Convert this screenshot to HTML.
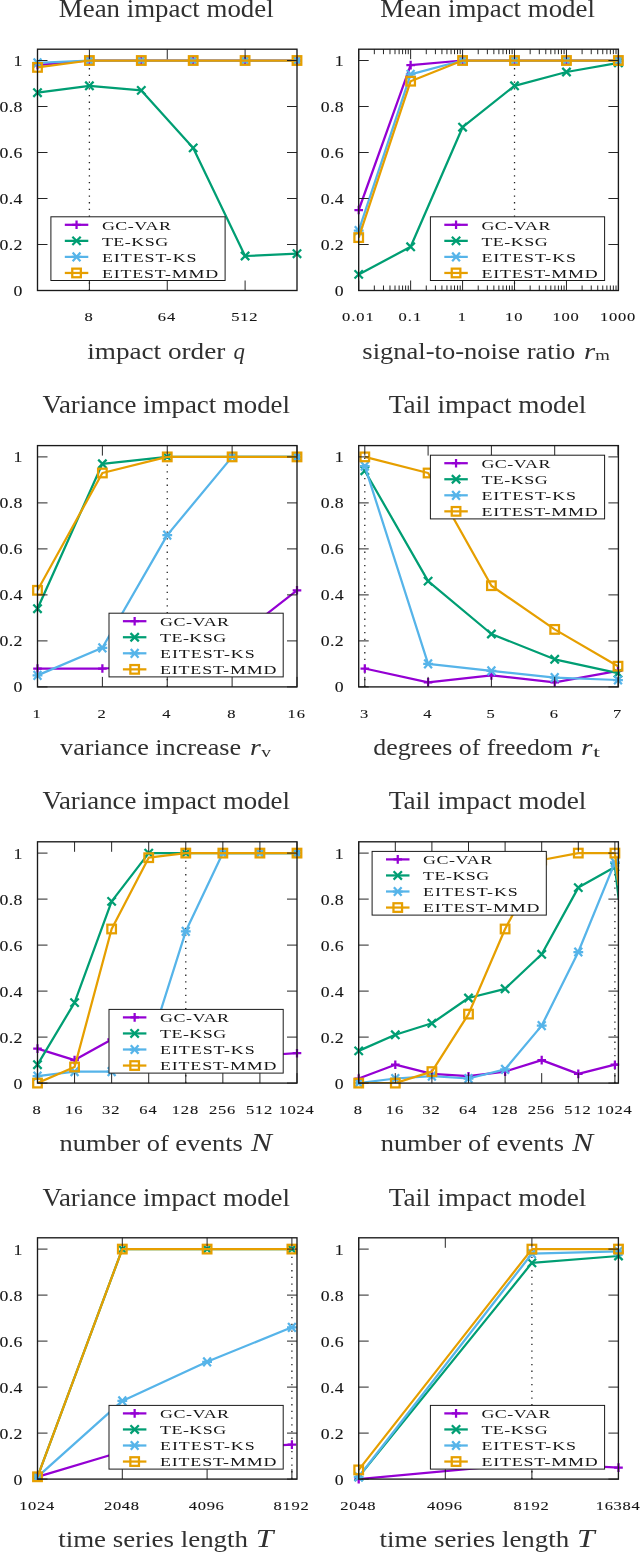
<!DOCTYPE html>
<html><head><meta charset="utf-8"><style>
html,body{margin:0;padding:0;background:#fff;}
body{width:640px;height:1552px;overflow:hidden;}
svg{display:block;will-change:transform;font-family:"Liberation Serif",serif;fill:#111;}
text{fill:#303030;}
.sm{fill:#151515;stroke:#151515;stroke-width:0.1px;}
.lg{fill:#151515;}
</style></head><body>
<svg width="640" height="1552" viewBox="0 0 640 1552">
<rect width="640" height="1552" fill="#fff"/>
<clipPath id="c0"><rect x="37.5" y="49.2" width="259.5" height="241.3"/></clipPath>
<path d="M89.40 290.50V60.50" stroke="#222" stroke-width="1.3" stroke-dasharray="1.3 5.4" fill="none"/>
<path d="M37.50 65.10L89.40 60.50L141.30 60.50L193.20 60.50L245.10 60.50L297.00 60.50" stroke="#9400d3" stroke-width="2.25" fill="none" stroke-linejoin="round" clip-path="url(#c0)"/>
<path d="M33.20 65.10H41.80M37.50 60.80V69.40" stroke="#9400d3" stroke-width="2.25" fill="none"/><path d="M85.10 60.50H93.70M89.40 56.20V64.80" stroke="#9400d3" stroke-width="2.25" fill="none"/><path d="M137.00 60.50H145.60M141.30 56.20V64.80" stroke="#9400d3" stroke-width="2.25" fill="none"/><path d="M188.90 60.50H197.50M193.20 56.20V64.80" stroke="#9400d3" stroke-width="2.25" fill="none"/><path d="M240.80 60.50H249.40M245.10 56.20V64.80" stroke="#9400d3" stroke-width="2.25" fill="none"/><path d="M292.70 60.50H301.30M297.00 56.20V64.80" stroke="#9400d3" stroke-width="2.25" fill="none"/>
<path d="M37.50 92.70L89.40 85.80L141.30 90.40L193.20 147.90L245.10 256.00L297.00 253.70" stroke="#009e73" stroke-width="2.25" fill="none" stroke-linejoin="round" clip-path="url(#c0)"/>
<path d="M33.33 88.53L41.67 96.87M33.33 96.87L41.67 88.53" stroke="#009e73" stroke-width="2.25" fill="none"/><path d="M85.23 81.63L93.57 89.97M85.23 89.97L93.57 81.63" stroke="#009e73" stroke-width="2.25" fill="none"/><path d="M137.13 86.23L145.47 94.57M137.13 94.57L145.47 86.23" stroke="#009e73" stroke-width="2.25" fill="none"/><path d="M189.03 143.73L197.37 152.07M189.03 152.07L197.37 143.73" stroke="#009e73" stroke-width="2.25" fill="none"/><path d="M240.93 251.83L249.27 260.17M240.93 260.17L249.27 251.83" stroke="#009e73" stroke-width="2.25" fill="none"/><path d="M292.83 249.53L301.17 257.87M292.83 257.87L301.17 249.53" stroke="#009e73" stroke-width="2.25" fill="none"/>
<path d="M37.50 62.80L89.40 60.50L141.30 60.50L193.20 60.50L245.10 60.50L297.00 60.50" stroke="#56b4e9" stroke-width="2.25" fill="none" stroke-linejoin="round" clip-path="url(#c0)"/>
<path d="M32.60 62.80H42.40M33.63 58.44L41.37 67.16M33.63 67.16L41.37 58.44" stroke="#56b4e9" stroke-width="2.25" fill="none"/><path d="M84.50 60.50H94.30M85.53 56.14L93.27 64.86M85.53 64.86L93.27 56.14" stroke="#56b4e9" stroke-width="2.25" fill="none"/><path d="M136.40 60.50H146.20M137.43 56.14L145.17 64.86M137.43 64.86L145.17 56.14" stroke="#56b4e9" stroke-width="2.25" fill="none"/><path d="M188.30 60.50H198.10M189.33 56.14L197.07 64.86M189.33 64.86L197.07 56.14" stroke="#56b4e9" stroke-width="2.25" fill="none"/><path d="M240.20 60.50H250.00M241.23 56.14L248.97 64.86M241.23 64.86L248.97 56.14" stroke="#56b4e9" stroke-width="2.25" fill="none"/><path d="M292.10 60.50H301.90M293.13 56.14L300.87 64.86M293.13 64.86L300.87 56.14" stroke="#56b4e9" stroke-width="2.25" fill="none"/>
<path d="M37.50 67.40L89.40 60.50L141.30 60.50L193.20 60.50L245.10 60.50L297.00 60.50" stroke="#e69f00" stroke-width="2.25" fill="none" stroke-linejoin="round" clip-path="url(#c0)"/>
<rect x="33.20" y="63.10" width="8.60" height="8.60" stroke="#e69f00" stroke-width="2.25" fill="none"/><rect x="85.10" y="56.20" width="8.60" height="8.60" stroke="#e69f00" stroke-width="2.25" fill="none"/><rect x="137.00" y="56.20" width="8.60" height="8.60" stroke="#e69f00" stroke-width="2.25" fill="none"/><rect x="188.90" y="56.20" width="8.60" height="8.60" stroke="#e69f00" stroke-width="2.25" fill="none"/><rect x="240.80" y="56.20" width="8.60" height="8.60" stroke="#e69f00" stroke-width="2.25" fill="none"/><rect x="292.70" y="56.20" width="8.60" height="8.60" stroke="#e69f00" stroke-width="2.25" fill="none"/>
<rect x="37.5" y="49.20" width="259.50" height="241.30" fill="none" stroke="#1a1a1a" stroke-width="1.35"/>
<path d="M37.5 290.50h10M297.0 290.50h-10M37.5 244.50h10M297.0 244.50h-10M37.5 198.50h10M297.0 198.50h-10M37.5 152.50h10M297.0 152.50h-10M37.5 106.50h10M297.0 106.50h-10M37.5 60.50h10M297.0 60.50h-10M89.40 290.50v-10M89.40 49.20v10M167.25 290.50v-10M167.25 49.20v10M245.10 290.50v-10M245.10 49.20v10" stroke="#1a1a1a" stroke-width="0.95" fill="none"/>
<rect x="50.90" y="216.80" width="174.2" height="63.7" fill="#fff" stroke="#1a1a1a" stroke-width="1"/>
<path d="M64.80 224.80H88.30" stroke="#9400d3" stroke-width="2.25"/>
<path d="M72.25 224.80H80.85M76.55 220.50V229.10" stroke="#9400d3" stroke-width="2.25" fill="none"/>
<text class="lg" transform="translate(101.90,229.55) scale(1.38,1)" font-size="13.0" textLength="50.07" lengthAdjust="spacing">GC-VAR</text>
<path d="M64.80 240.85H88.30" stroke="#009e73" stroke-width="2.25"/>
<path d="M72.38 236.68L80.72 245.02M72.38 245.02L80.72 236.68" stroke="#009e73" stroke-width="2.25" fill="none"/>
<text class="lg" transform="translate(101.90,245.60) scale(1.38,1)" font-size="13.0" textLength="47.97" lengthAdjust="spacing">TE-KSG</text>
<path d="M64.80 256.90H88.30" stroke="#56b4e9" stroke-width="2.25"/>
<path d="M71.65 256.90H81.45M72.68 252.54L80.42 261.26M72.68 261.26L80.42 252.54" stroke="#56b4e9" stroke-width="2.25" fill="none"/>
<text class="lg" transform="translate(101.90,261.65) scale(1.38,1)" font-size="13.0" textLength="68.62" lengthAdjust="spacing">EITEST-KS</text>
<path d="M64.80 272.95H88.30" stroke="#e69f00" stroke-width="2.25"/>
<rect x="72.25" y="268.65" width="8.60" height="8.60" stroke="#e69f00" stroke-width="2.25" fill="none"/>
<text class="lg" transform="translate(101.90,277.70) scale(1.38,1)" font-size="13.0" textLength="84.35" lengthAdjust="spacing">EITEST-MMD</text>
<text class="sm" transform="translate(22.30,295.90) scale(1.25,1)" font-size="14.2" text-anchor="end" textLength="7.02" lengthAdjust="spacing">0</text>
<text class="sm" transform="translate(22.30,249.90) scale(1.25,1)" font-size="14.2" text-anchor="end" textLength="18.26" lengthAdjust="spacing">0.2</text>
<text class="sm" transform="translate(22.30,203.90) scale(1.25,1)" font-size="14.2" text-anchor="end" textLength="18.26" lengthAdjust="spacing">0.4</text>
<text class="sm" transform="translate(22.30,157.90) scale(1.25,1)" font-size="14.2" text-anchor="end" textLength="18.26" lengthAdjust="spacing">0.6</text>
<text class="sm" transform="translate(22.30,111.90) scale(1.25,1)" font-size="14.2" text-anchor="end" textLength="18.26" lengthAdjust="spacing">0.8</text>
<text class="sm" transform="translate(22.30,65.90) scale(1.25,1)" font-size="14.2" text-anchor="end" textLength="7.02" lengthAdjust="spacing">1</text>
<text class="sm" transform="translate(88.60,321.10) scale(1.25,1)" font-size="13.2" text-anchor="middle" textLength="7.02" lengthAdjust="spacing">8</text>
<text class="sm" transform="translate(166.45,321.10) scale(1.25,1)" font-size="13.2" text-anchor="middle" textLength="14.04" lengthAdjust="spacing">64</text>
<text class="sm" transform="translate(244.30,321.10) scale(1.25,1)" font-size="13.2" text-anchor="middle" textLength="21.07" lengthAdjust="spacing">512</text>
<text x="166.25" y="16.70" font-size="25.5" text-anchor="middle" textLength="214.80" lengthAdjust="spacingAndGlyphs">Mean impact model</text>
<text x="87.20" y="358.70" font-size="24.0" text-anchor="start" textLength="138.10" lengthAdjust="spacingAndGlyphs">impact order</text>
<text x="233.60" y="358.90" font-size="23.0" text-anchor="start" textLength="11.40" lengthAdjust="spacingAndGlyphs" font-style="italic">q</text>
<clipPath id="c1"><rect x="358.7" y="49.2" width="259.7" height="241.3"/></clipPath>
<path d="M514.52 290.50V60.50" stroke="#222" stroke-width="1.3" stroke-dasharray="1.3 5.4" fill="none"/>
<path d="M358.70 210.00L410.64 65.10L462.58 60.50L514.52 60.50L566.46 60.50L618.40 60.50" stroke="#9400d3" stroke-width="2.25" fill="none" stroke-linejoin="round" clip-path="url(#c1)"/>
<path d="M354.40 210.00H363.00M358.70 205.70V214.30" stroke="#9400d3" stroke-width="2.25" fill="none"/><path d="M406.34 65.10H414.94M410.64 60.80V69.40" stroke="#9400d3" stroke-width="2.25" fill="none"/><path d="M458.28 60.50H466.88M462.58 56.20V64.80" stroke="#9400d3" stroke-width="2.25" fill="none"/><path d="M510.22 60.50H518.82M514.52 56.20V64.80" stroke="#9400d3" stroke-width="2.25" fill="none"/><path d="M562.16 60.50H570.76M566.46 56.20V64.80" stroke="#9400d3" stroke-width="2.25" fill="none"/><path d="M614.10 60.50H622.70M618.40 56.20V64.80" stroke="#9400d3" stroke-width="2.25" fill="none"/>
<path d="M358.70 274.40L410.64 246.80L462.58 127.20L514.52 85.80L566.46 72.00L618.40 62.80" stroke="#009e73" stroke-width="2.25" fill="none" stroke-linejoin="round" clip-path="url(#c1)"/>
<path d="M354.53 270.23L362.87 278.57M354.53 278.57L362.87 270.23" stroke="#009e73" stroke-width="2.25" fill="none"/><path d="M406.47 242.63L414.81 250.97M406.47 250.97L414.81 242.63" stroke="#009e73" stroke-width="2.25" fill="none"/><path d="M458.41 123.03L466.75 131.37M458.41 131.37L466.75 123.03" stroke="#009e73" stroke-width="2.25" fill="none"/><path d="M510.35 81.63L518.69 89.97M510.35 89.97L518.69 81.63" stroke="#009e73" stroke-width="2.25" fill="none"/><path d="M562.29 67.83L570.63 76.17M562.29 76.17L570.63 67.83" stroke="#009e73" stroke-width="2.25" fill="none"/><path d="M614.23 58.63L622.57 66.97M614.23 66.97L622.57 58.63" stroke="#009e73" stroke-width="2.25" fill="none"/>
<path d="M358.70 230.70L410.64 74.30L462.58 60.50L514.52 60.50L566.46 60.50L618.40 60.50" stroke="#56b4e9" stroke-width="2.25" fill="none" stroke-linejoin="round" clip-path="url(#c1)"/>
<path d="M353.80 230.70H363.60M354.83 226.34L362.57 235.06M354.83 235.06L362.57 226.34" stroke="#56b4e9" stroke-width="2.25" fill="none"/><path d="M405.74 74.30H415.54M406.77 69.94L414.51 78.66M406.77 78.66L414.51 69.94" stroke="#56b4e9" stroke-width="2.25" fill="none"/><path d="M457.68 60.50H467.48M458.71 56.14L466.45 64.86M458.71 64.86L466.45 56.14" stroke="#56b4e9" stroke-width="2.25" fill="none"/><path d="M509.62 60.50H519.42M510.65 56.14L518.39 64.86M510.65 64.86L518.39 56.14" stroke="#56b4e9" stroke-width="2.25" fill="none"/><path d="M561.56 60.50H571.36M562.59 56.14L570.33 64.86M562.59 64.86L570.33 56.14" stroke="#56b4e9" stroke-width="2.25" fill="none"/><path d="M613.50 60.50H623.30M614.53 56.14L622.27 64.86M614.53 64.86L622.27 56.14" stroke="#56b4e9" stroke-width="2.25" fill="none"/>
<path d="M358.70 237.60L410.64 81.20L462.58 60.50L514.52 60.50L566.46 60.50L618.40 60.50" stroke="#e69f00" stroke-width="2.25" fill="none" stroke-linejoin="round" clip-path="url(#c1)"/>
<rect x="354.40" y="233.30" width="8.60" height="8.60" stroke="#e69f00" stroke-width="2.25" fill="none"/><rect x="406.34" y="76.90" width="8.60" height="8.60" stroke="#e69f00" stroke-width="2.25" fill="none"/><rect x="458.28" y="56.20" width="8.60" height="8.60" stroke="#e69f00" stroke-width="2.25" fill="none"/><rect x="510.22" y="56.20" width="8.60" height="8.60" stroke="#e69f00" stroke-width="2.25" fill="none"/><rect x="562.16" y="56.20" width="8.60" height="8.60" stroke="#e69f00" stroke-width="2.25" fill="none"/><rect x="614.10" y="56.20" width="8.60" height="8.60" stroke="#e69f00" stroke-width="2.25" fill="none"/>
<rect x="358.7" y="49.20" width="259.70" height="241.30" fill="none" stroke="#1a1a1a" stroke-width="1.35"/>
<path d="M358.7 290.50h10M618.4 290.50h-10M358.7 244.50h10M618.4 244.50h-10M358.7 198.50h10M618.4 198.50h-10M358.7 152.50h10M618.4 152.50h-10M358.7 106.50h10M618.4 106.50h-10M358.7 60.50h10M618.4 60.50h-10M358.70 290.50v-10M358.70 49.20v10M410.64 290.50v-10M410.64 49.20v10M462.58 290.50v-10M462.58 49.20v10M514.52 290.50v-10M514.52 49.20v10M566.46 290.50v-10M566.46 49.20v10M618.40 290.50v-10M618.40 49.20v10M374.34 290.50v-5M374.34 49.20v5M383.48 290.50v-5M383.48 49.20v5M389.97 290.50v-5M389.97 49.20v5M395.00 290.50v-5M395.00 49.20v5M399.12 290.50v-5M399.12 49.20v5M402.59 290.50v-5M402.59 49.20v5M405.61 290.50v-5M405.61 49.20v5M408.26 290.50v-5M408.26 49.20v5M426.28 290.50v-5M426.28 49.20v5M435.42 290.50v-5M435.42 49.20v5M441.91 290.50v-5M441.91 49.20v5M446.94 290.50v-5M446.94 49.20v5M451.06 290.50v-5M451.06 49.20v5M454.53 290.50v-5M454.53 49.20v5M457.55 290.50v-5M457.55 49.20v5M460.20 290.50v-5M460.20 49.20v5M478.22 290.50v-5M478.22 49.20v5M487.36 290.50v-5M487.36 49.20v5M493.85 290.50v-5M493.85 49.20v5M498.88 290.50v-5M498.88 49.20v5M503.00 290.50v-5M503.00 49.20v5M506.47 290.50v-5M506.47 49.20v5M509.49 290.50v-5M509.49 49.20v5M512.14 290.50v-5M512.14 49.20v5M530.16 290.50v-5M530.16 49.20v5M539.30 290.50v-5M539.30 49.20v5M545.79 290.50v-5M545.79 49.20v5M550.82 290.50v-5M550.82 49.20v5M554.94 290.50v-5M554.94 49.20v5M558.41 290.50v-5M558.41 49.20v5M561.43 290.50v-5M561.43 49.20v5M564.08 290.50v-5M564.08 49.20v5M582.10 290.50v-5M582.10 49.20v5M591.24 290.50v-5M591.24 49.20v5M597.73 290.50v-5M597.73 49.20v5M602.76 290.50v-5M602.76 49.20v5M606.88 290.50v-5M606.88 49.20v5M610.35 290.50v-5M610.35 49.20v5M613.37 290.50v-5M613.37 49.20v5M616.02 290.50v-5M616.02 49.20v5" stroke="#1a1a1a" stroke-width="0.95" fill="none"/>
<rect x="430.40" y="216.80" width="174.2" height="63.7" fill="#fff" stroke="#1a1a1a" stroke-width="1"/>
<path d="M444.30 224.80H467.80" stroke="#9400d3" stroke-width="2.25"/>
<path d="M451.75 224.80H460.35M456.05 220.50V229.10" stroke="#9400d3" stroke-width="2.25" fill="none"/>
<text class="lg" transform="translate(481.40,229.55) scale(1.38,1)" font-size="13.0" textLength="50.07" lengthAdjust="spacing">GC-VAR</text>
<path d="M444.30 240.85H467.80" stroke="#009e73" stroke-width="2.25"/>
<path d="M451.88 236.68L460.22 245.02M451.88 245.02L460.22 236.68" stroke="#009e73" stroke-width="2.25" fill="none"/>
<text class="lg" transform="translate(481.40,245.60) scale(1.38,1)" font-size="13.0" textLength="47.97" lengthAdjust="spacing">TE-KSG</text>
<path d="M444.30 256.90H467.80" stroke="#56b4e9" stroke-width="2.25"/>
<path d="M451.15 256.90H460.95M452.18 252.54L459.92 261.26M452.18 261.26L459.92 252.54" stroke="#56b4e9" stroke-width="2.25" fill="none"/>
<text class="lg" transform="translate(481.40,261.65) scale(1.38,1)" font-size="13.0" textLength="68.62" lengthAdjust="spacing">EITEST-KS</text>
<path d="M444.30 272.95H467.80" stroke="#e69f00" stroke-width="2.25"/>
<rect x="451.75" y="268.65" width="8.60" height="8.60" stroke="#e69f00" stroke-width="2.25" fill="none"/>
<text class="lg" transform="translate(481.40,277.70) scale(1.38,1)" font-size="13.0" textLength="84.35" lengthAdjust="spacing">EITEST-MMD</text>
<text class="sm" transform="translate(343.50,295.90) scale(1.25,1)" font-size="14.2" text-anchor="end" textLength="7.02" lengthAdjust="spacing">0</text>
<text class="sm" transform="translate(343.50,249.90) scale(1.25,1)" font-size="14.2" text-anchor="end" textLength="18.26" lengthAdjust="spacing">0.2</text>
<text class="sm" transform="translate(343.50,203.90) scale(1.25,1)" font-size="14.2" text-anchor="end" textLength="18.26" lengthAdjust="spacing">0.4</text>
<text class="sm" transform="translate(343.50,157.90) scale(1.25,1)" font-size="14.2" text-anchor="end" textLength="18.26" lengthAdjust="spacing">0.6</text>
<text class="sm" transform="translate(343.50,111.90) scale(1.25,1)" font-size="14.2" text-anchor="end" textLength="18.26" lengthAdjust="spacing">0.8</text>
<text class="sm" transform="translate(343.50,65.90) scale(1.25,1)" font-size="14.2" text-anchor="end" textLength="7.02" lengthAdjust="spacing">1</text>
<text class="sm" transform="translate(357.90,321.10) scale(1.25,1)" font-size="13.2" text-anchor="middle" textLength="25.28" lengthAdjust="spacing">0.01</text>
<text class="sm" transform="translate(409.84,321.10) scale(1.25,1)" font-size="13.2" text-anchor="middle" textLength="18.26" lengthAdjust="spacing">0.1</text>
<text class="sm" transform="translate(461.78,321.10) scale(1.25,1)" font-size="13.2" text-anchor="middle" textLength="7.02" lengthAdjust="spacing">1</text>
<text class="sm" transform="translate(513.72,321.10) scale(1.25,1)" font-size="13.2" text-anchor="middle" textLength="14.04" lengthAdjust="spacing">10</text>
<text class="sm" transform="translate(565.66,321.10) scale(1.25,1)" font-size="13.2" text-anchor="middle" textLength="21.07" lengthAdjust="spacing">100</text>
<text class="sm" transform="translate(617.60,321.10) scale(1.25,1)" font-size="13.2" text-anchor="middle" textLength="28.09" lengthAdjust="spacing">1000</text>
<text x="487.55" y="16.70" font-size="25.5" text-anchor="middle" textLength="214.80" lengthAdjust="spacingAndGlyphs">Mean impact model</text>
<text x="362.30" y="358.70" font-size="24.0" text-anchor="start" textLength="213.10" lengthAdjust="spacingAndGlyphs">signal-to-noise ratio</text>
<text x="583.90" y="358.90" font-size="23.0" text-anchor="start" textLength="11.10" lengthAdjust="spacingAndGlyphs" font-style="italic">r</text>
<text x="595.20" y="360.20" font-size="13.7" text-anchor="start" textLength="14.60" lengthAdjust="spacingAndGlyphs">m</text>
<clipPath id="c2"><rect x="37.5" y="445.59999999999997" width="259.5" height="241.3"/></clipPath>
<path d="M167.25 686.90V456.90" stroke="#222" stroke-width="1.3" stroke-dasharray="1.3 5.4" fill="none"/>
<path d="M37.50 668.50L102.38 668.50L167.25 666.20L232.12 640.90L297.00 590.30" stroke="#9400d3" stroke-width="2.25" fill="none" stroke-linejoin="round" clip-path="url(#c2)"/>
<path d="M33.20 668.50H41.80M37.50 664.20V672.80" stroke="#9400d3" stroke-width="2.25" fill="none"/><path d="M98.08 668.50H106.67M102.38 664.20V672.80" stroke="#9400d3" stroke-width="2.25" fill="none"/><path d="M162.95 666.20H171.55M167.25 661.90V670.50" stroke="#9400d3" stroke-width="2.25" fill="none"/><path d="M227.82 640.90H236.43M232.12 636.60V645.20" stroke="#9400d3" stroke-width="2.25" fill="none"/><path d="M292.70 590.30H301.30M297.00 586.00V594.60" stroke="#9400d3" stroke-width="2.25" fill="none"/>
<path d="M37.50 608.70L102.38 463.80L167.25 456.90L232.12 456.90L297.00 456.90" stroke="#009e73" stroke-width="2.25" fill="none" stroke-linejoin="round" clip-path="url(#c2)"/>
<path d="M33.33 604.53L41.67 612.87M33.33 612.87L41.67 604.53" stroke="#009e73" stroke-width="2.25" fill="none"/><path d="M98.20 459.63L106.55 467.97M98.20 467.97L106.55 459.63" stroke="#009e73" stroke-width="2.25" fill="none"/><path d="M163.08 452.73L171.42 461.07M163.08 461.07L171.42 452.73" stroke="#009e73" stroke-width="2.25" fill="none"/><path d="M227.95 452.73L236.30 461.07M227.95 461.07L236.30 452.73" stroke="#009e73" stroke-width="2.25" fill="none"/><path d="M292.83 452.73L301.17 461.07M292.83 461.07L301.17 452.73" stroke="#009e73" stroke-width="2.25" fill="none"/>
<path d="M37.50 675.40L102.38 647.80L167.25 535.10L232.12 456.90L297.00 456.90" stroke="#56b4e9" stroke-width="2.25" fill="none" stroke-linejoin="round" clip-path="url(#c2)"/>
<path d="M32.60 675.40H42.40M33.63 671.04L41.37 679.76M33.63 679.76L41.37 671.04" stroke="#56b4e9" stroke-width="2.25" fill="none"/><path d="M97.47 647.80H107.28M98.50 643.44L106.25 652.16M98.50 652.16L106.25 643.44" stroke="#56b4e9" stroke-width="2.25" fill="none"/><path d="M162.35 535.10H172.15M163.38 530.74L171.12 539.46M163.38 539.46L171.12 530.74" stroke="#56b4e9" stroke-width="2.25" fill="none"/><path d="M227.22 456.90H237.03M228.25 452.54L236.00 461.26M228.25 461.26L236.00 452.54" stroke="#56b4e9" stroke-width="2.25" fill="none"/><path d="M292.10 456.90H301.90M293.13 452.54L300.87 461.26M293.13 461.26L300.87 452.54" stroke="#56b4e9" stroke-width="2.25" fill="none"/>
<path d="M37.50 590.30L102.38 473.00L167.25 456.90L232.12 456.90L297.00 456.90" stroke="#e69f00" stroke-width="2.25" fill="none" stroke-linejoin="round" clip-path="url(#c2)"/>
<rect x="33.20" y="586.00" width="8.60" height="8.60" stroke="#e69f00" stroke-width="2.25" fill="none"/><rect x="98.08" y="468.70" width="8.60" height="8.60" stroke="#e69f00" stroke-width="2.25" fill="none"/><rect x="162.95" y="452.60" width="8.60" height="8.60" stroke="#e69f00" stroke-width="2.25" fill="none"/><rect x="227.82" y="452.60" width="8.60" height="8.60" stroke="#e69f00" stroke-width="2.25" fill="none"/><rect x="292.70" y="452.60" width="8.60" height="8.60" stroke="#e69f00" stroke-width="2.25" fill="none"/>
<rect x="37.5" y="445.60" width="259.50" height="241.30" fill="none" stroke="#1a1a1a" stroke-width="1.35"/>
<path d="M37.5 686.90h10M297.0 686.90h-10M37.5 640.90h10M297.0 640.90h-10M37.5 594.90h10M297.0 594.90h-10M37.5 548.90h10M297.0 548.90h-10M37.5 502.90h10M297.0 502.90h-10M37.5 456.90h10M297.0 456.90h-10M37.50 686.90v-10M37.50 445.60v10M102.38 686.90v-10M102.38 445.60v10M167.25 686.90v-10M167.25 445.60v10M232.12 686.90v-10M232.12 445.60v10M297.00 686.90v-10M297.00 445.60v10" stroke="#1a1a1a" stroke-width="0.95" fill="none"/>
<rect x="109.00" y="613.20" width="174.2" height="63.7" fill="#fff" stroke="#1a1a1a" stroke-width="1"/>
<path d="M122.90 621.20H146.40" stroke="#9400d3" stroke-width="2.25"/>
<path d="M130.35 621.20H138.95M134.65 616.90V625.50" stroke="#9400d3" stroke-width="2.25" fill="none"/>
<text class="lg" transform="translate(160.00,625.95) scale(1.38,1)" font-size="13.0" textLength="50.07" lengthAdjust="spacing">GC-VAR</text>
<path d="M122.90 637.25H146.40" stroke="#009e73" stroke-width="2.25"/>
<path d="M130.48 633.08L138.82 641.42M130.48 641.42L138.82 633.08" stroke="#009e73" stroke-width="2.25" fill="none"/>
<text class="lg" transform="translate(160.00,642.00) scale(1.38,1)" font-size="13.0" textLength="47.97" lengthAdjust="spacing">TE-KSG</text>
<path d="M122.90 653.30H146.40" stroke="#56b4e9" stroke-width="2.25"/>
<path d="M129.75 653.30H139.55M130.78 648.94L138.52 657.66M130.78 657.66L138.52 648.94" stroke="#56b4e9" stroke-width="2.25" fill="none"/>
<text class="lg" transform="translate(160.00,658.05) scale(1.38,1)" font-size="13.0" textLength="68.62" lengthAdjust="spacing">EITEST-KS</text>
<path d="M122.90 669.35H146.40" stroke="#e69f00" stroke-width="2.25"/>
<rect x="130.35" y="665.05" width="8.60" height="8.60" stroke="#e69f00" stroke-width="2.25" fill="none"/>
<text class="lg" transform="translate(160.00,674.10) scale(1.38,1)" font-size="13.0" textLength="84.35" lengthAdjust="spacing">EITEST-MMD</text>
<text class="sm" transform="translate(22.30,692.30) scale(1.25,1)" font-size="14.2" text-anchor="end" textLength="7.02" lengthAdjust="spacing">0</text>
<text class="sm" transform="translate(22.30,646.30) scale(1.25,1)" font-size="14.2" text-anchor="end" textLength="18.26" lengthAdjust="spacing">0.2</text>
<text class="sm" transform="translate(22.30,600.30) scale(1.25,1)" font-size="14.2" text-anchor="end" textLength="18.26" lengthAdjust="spacing">0.4</text>
<text class="sm" transform="translate(22.30,554.30) scale(1.25,1)" font-size="14.2" text-anchor="end" textLength="18.26" lengthAdjust="spacing">0.6</text>
<text class="sm" transform="translate(22.30,508.30) scale(1.25,1)" font-size="14.2" text-anchor="end" textLength="18.26" lengthAdjust="spacing">0.8</text>
<text class="sm" transform="translate(22.30,462.30) scale(1.25,1)" font-size="14.2" text-anchor="end" textLength="7.02" lengthAdjust="spacing">1</text>
<text class="sm" transform="translate(36.70,717.50) scale(1.25,1)" font-size="13.2" text-anchor="middle" textLength="7.02" lengthAdjust="spacing">1</text>
<text class="sm" transform="translate(101.58,717.50) scale(1.25,1)" font-size="13.2" text-anchor="middle" textLength="7.02" lengthAdjust="spacing">2</text>
<text class="sm" transform="translate(166.45,717.50) scale(1.25,1)" font-size="13.2" text-anchor="middle" textLength="7.02" lengthAdjust="spacing">4</text>
<text class="sm" transform="translate(231.32,717.50) scale(1.25,1)" font-size="13.2" text-anchor="middle" textLength="7.02" lengthAdjust="spacing">8</text>
<text class="sm" transform="translate(296.20,717.50) scale(1.25,1)" font-size="13.2" text-anchor="middle" textLength="14.04" lengthAdjust="spacing">16</text>
<text x="166.25" y="413.10" font-size="25.5" text-anchor="middle" textLength="247.50" lengthAdjust="spacingAndGlyphs">Variance impact model</text>
<text x="60.10" y="755.10" font-size="24.0" text-anchor="start" textLength="181.00" lengthAdjust="spacingAndGlyphs">variance increase</text>
<text x="250.00" y="755.30" font-size="23.0" text-anchor="start" textLength="10.80" lengthAdjust="spacingAndGlyphs" font-style="italic">r</text>
<text x="261.20" y="756.60" font-size="13.7" text-anchor="start" textLength="9.70" lengthAdjust="spacingAndGlyphs">v</text>
<clipPath id="c3"><rect x="358.7" y="445.59999999999997" width="259.7" height="241.3"/></clipPath>
<path d="M364.80 686.90V456.90" stroke="#222" stroke-width="1.3" stroke-dasharray="1.3 5.4" fill="none"/>
<path d="M364.80 668.50L428.10 682.30L491.40 675.40L554.70 682.30L618.00 670.80" stroke="#9400d3" stroke-width="2.25" fill="none" stroke-linejoin="round" clip-path="url(#c3)"/>
<path d="M360.50 668.50H369.10M364.80 664.20V672.80" stroke="#9400d3" stroke-width="2.25" fill="none"/><path d="M423.80 682.30H432.40M428.10 678.00V686.60" stroke="#9400d3" stroke-width="2.25" fill="none"/><path d="M487.10 675.40H495.70M491.40 671.10V679.70" stroke="#9400d3" stroke-width="2.25" fill="none"/><path d="M550.40 682.30H559.00M554.70 678.00V686.60" stroke="#9400d3" stroke-width="2.25" fill="none"/><path d="M613.70 670.80H622.30M618.00 666.50V675.10" stroke="#9400d3" stroke-width="2.25" fill="none"/>
<path d="M364.80 470.70L428.10 581.10L491.40 634.00L554.70 659.30L618.00 673.10" stroke="#009e73" stroke-width="2.25" fill="none" stroke-linejoin="round" clip-path="url(#c3)"/>
<path d="M360.63 466.53L368.97 474.87M360.63 474.87L368.97 466.53" stroke="#009e73" stroke-width="2.25" fill="none"/><path d="M423.93 576.93L432.27 585.27M423.93 585.27L432.27 576.93" stroke="#009e73" stroke-width="2.25" fill="none"/><path d="M487.23 629.83L495.57 638.17M487.23 638.17L495.57 629.83" stroke="#009e73" stroke-width="2.25" fill="none"/><path d="M550.53 655.13L558.87 663.47M550.53 663.47L558.87 655.13" stroke="#009e73" stroke-width="2.25" fill="none"/><path d="M613.83 668.93L622.17 677.27M613.83 677.27L622.17 668.93" stroke="#009e73" stroke-width="2.25" fill="none"/>
<path d="M364.80 466.10L428.10 663.90L491.40 670.80L554.70 677.70L618.00 680.00" stroke="#56b4e9" stroke-width="2.25" fill="none" stroke-linejoin="round" clip-path="url(#c3)"/>
<path d="M359.90 466.10H369.70M360.93 461.74L368.67 470.46M360.93 470.46L368.67 461.74" stroke="#56b4e9" stroke-width="2.25" fill="none"/><path d="M423.20 663.90H433.00M424.23 659.54L431.97 668.26M424.23 668.26L431.97 659.54" stroke="#56b4e9" stroke-width="2.25" fill="none"/><path d="M486.50 670.80H496.30M487.53 666.44L495.27 675.16M487.53 675.16L495.27 666.44" stroke="#56b4e9" stroke-width="2.25" fill="none"/><path d="M549.80 677.70H559.60M550.83 673.34L558.57 682.06M550.83 682.06L558.57 673.34" stroke="#56b4e9" stroke-width="2.25" fill="none"/><path d="M613.10 680.00H622.90M614.13 675.64L621.87 684.36M614.13 684.36L621.87 675.64" stroke="#56b4e9" stroke-width="2.25" fill="none"/>
<path d="M364.80 456.90L428.10 473.00L491.40 585.70L554.70 629.40L618.00 666.20" stroke="#e69f00" stroke-width="2.25" fill="none" stroke-linejoin="round" clip-path="url(#c3)"/>
<rect x="360.50" y="452.60" width="8.60" height="8.60" stroke="#e69f00" stroke-width="2.25" fill="none"/><rect x="423.80" y="468.70" width="8.60" height="8.60" stroke="#e69f00" stroke-width="2.25" fill="none"/><rect x="487.10" y="581.40" width="8.60" height="8.60" stroke="#e69f00" stroke-width="2.25" fill="none"/><rect x="550.40" y="625.10" width="8.60" height="8.60" stroke="#e69f00" stroke-width="2.25" fill="none"/><rect x="613.70" y="661.90" width="8.60" height="8.60" stroke="#e69f00" stroke-width="2.25" fill="none"/>
<rect x="358.7" y="445.60" width="259.70" height="241.30" fill="none" stroke="#1a1a1a" stroke-width="1.35"/>
<path d="M358.7 686.90h10M618.4 686.90h-10M358.7 640.90h10M618.4 640.90h-10M358.7 594.90h10M618.4 594.90h-10M358.7 548.90h10M618.4 548.90h-10M358.7 502.90h10M618.4 502.90h-10M358.7 456.90h10M618.4 456.90h-10M364.80 686.90v-10M364.80 445.60v10M428.10 686.90v-10M428.10 445.60v10M491.40 686.90v-10M491.40 445.60v10M554.70 686.90v-10M554.70 445.60v10M618.00 686.90v-10M618.00 445.60v10" stroke="#1a1a1a" stroke-width="0.95" fill="none"/>
<rect x="430.40" y="455.20" width="174.2" height="63.7" fill="#fff" stroke="#1a1a1a" stroke-width="1"/>
<path d="M444.30 463.20H467.80" stroke="#9400d3" stroke-width="2.25"/>
<path d="M451.75 463.20H460.35M456.05 458.90V467.50" stroke="#9400d3" stroke-width="2.25" fill="none"/>
<text class="lg" transform="translate(481.40,467.95) scale(1.38,1)" font-size="13.0" textLength="50.07" lengthAdjust="spacing">GC-VAR</text>
<path d="M444.30 479.25H467.80" stroke="#009e73" stroke-width="2.25"/>
<path d="M451.88 475.08L460.22 483.42M451.88 483.42L460.22 475.08" stroke="#009e73" stroke-width="2.25" fill="none"/>
<text class="lg" transform="translate(481.40,484.00) scale(1.38,1)" font-size="13.0" textLength="47.97" lengthAdjust="spacing">TE-KSG</text>
<path d="M444.30 495.30H467.80" stroke="#56b4e9" stroke-width="2.25"/>
<path d="M451.15 495.30H460.95M452.18 490.94L459.92 499.66M452.18 499.66L459.92 490.94" stroke="#56b4e9" stroke-width="2.25" fill="none"/>
<text class="lg" transform="translate(481.40,500.05) scale(1.38,1)" font-size="13.0" textLength="68.62" lengthAdjust="spacing">EITEST-KS</text>
<path d="M444.30 511.35H467.80" stroke="#e69f00" stroke-width="2.25"/>
<rect x="451.75" y="507.05" width="8.60" height="8.60" stroke="#e69f00" stroke-width="2.25" fill="none"/>
<text class="lg" transform="translate(481.40,516.10) scale(1.38,1)" font-size="13.0" textLength="84.35" lengthAdjust="spacing">EITEST-MMD</text>
<text class="sm" transform="translate(343.50,692.30) scale(1.25,1)" font-size="14.2" text-anchor="end" textLength="7.02" lengthAdjust="spacing">0</text>
<text class="sm" transform="translate(343.50,646.30) scale(1.25,1)" font-size="14.2" text-anchor="end" textLength="18.26" lengthAdjust="spacing">0.2</text>
<text class="sm" transform="translate(343.50,600.30) scale(1.25,1)" font-size="14.2" text-anchor="end" textLength="18.26" lengthAdjust="spacing">0.4</text>
<text class="sm" transform="translate(343.50,554.30) scale(1.25,1)" font-size="14.2" text-anchor="end" textLength="18.26" lengthAdjust="spacing">0.6</text>
<text class="sm" transform="translate(343.50,508.30) scale(1.25,1)" font-size="14.2" text-anchor="end" textLength="18.26" lengthAdjust="spacing">0.8</text>
<text class="sm" transform="translate(343.50,462.30) scale(1.25,1)" font-size="14.2" text-anchor="end" textLength="7.02" lengthAdjust="spacing">1</text>
<text class="sm" transform="translate(364.00,717.50) scale(1.25,1)" font-size="13.2" text-anchor="middle" textLength="7.02" lengthAdjust="spacing">3</text>
<text class="sm" transform="translate(427.30,717.50) scale(1.25,1)" font-size="13.2" text-anchor="middle" textLength="7.02" lengthAdjust="spacing">4</text>
<text class="sm" transform="translate(490.60,717.50) scale(1.25,1)" font-size="13.2" text-anchor="middle" textLength="7.02" lengthAdjust="spacing">5</text>
<text class="sm" transform="translate(553.90,717.50) scale(1.25,1)" font-size="13.2" text-anchor="middle" textLength="7.02" lengthAdjust="spacing">6</text>
<text class="sm" transform="translate(617.20,717.50) scale(1.25,1)" font-size="13.2" text-anchor="middle" textLength="7.02" lengthAdjust="spacing">7</text>
<text x="487.55" y="413.10" font-size="25.5" text-anchor="middle" textLength="197.60" lengthAdjust="spacingAndGlyphs">Tail impact model</text>
<text x="373.25" y="755.10" font-size="24.0" text-anchor="start" textLength="199.65" lengthAdjust="spacingAndGlyphs">degrees of freedom</text>
<text x="581.00" y="755.30" font-size="23.0" text-anchor="start" textLength="11.50" lengthAdjust="spacingAndGlyphs" font-style="italic">r</text>
<text x="593.00" y="756.60" font-size="13.7" text-anchor="start" textLength="7.10" lengthAdjust="spacingAndGlyphs">t</text>
<clipPath id="c4"><rect x="37.5" y="841.8000000000001" width="259.5" height="241.29999999999984"/></clipPath>
<path d="M185.78 1083.10V853.10" stroke="#222" stroke-width="1.3" stroke-dasharray="1.3 5.4" fill="none"/>
<path d="M37.50 1048.60L74.57 1060.10L111.64 1039.40L148.71 1050.90L185.78 1055.50L222.85 1057.80L259.92 1055.50L296.99 1053.20" stroke="#9400d3" stroke-width="2.25" fill="none" stroke-linejoin="round" clip-path="url(#c4)"/>
<path d="M33.20 1048.60H41.80M37.50 1044.30V1052.90" stroke="#9400d3" stroke-width="2.25" fill="none"/><path d="M70.27 1060.10H78.87M74.57 1055.80V1064.40" stroke="#9400d3" stroke-width="2.25" fill="none"/><path d="M107.34 1039.40H115.94M111.64 1035.10V1043.70" stroke="#9400d3" stroke-width="2.25" fill="none"/><path d="M144.41 1050.90H153.01M148.71 1046.60V1055.20" stroke="#9400d3" stroke-width="2.25" fill="none"/><path d="M181.48 1055.50H190.08M185.78 1051.20V1059.80" stroke="#9400d3" stroke-width="2.25" fill="none"/><path d="M218.55 1057.80H227.15M222.85 1053.50V1062.10" stroke="#9400d3" stroke-width="2.25" fill="none"/><path d="M255.62 1055.50H264.22M259.92 1051.20V1059.80" stroke="#9400d3" stroke-width="2.25" fill="none"/><path d="M292.69 1053.20H301.29M296.99 1048.90V1057.50" stroke="#9400d3" stroke-width="2.25" fill="none"/>
<path d="M37.50 1064.70L74.57 1002.60L111.64 901.40L148.71 853.10L185.78 853.10L222.85 853.10L259.92 853.10L296.99 853.10" stroke="#009e73" stroke-width="2.25" fill="none" stroke-linejoin="round" clip-path="url(#c4)"/>
<path d="M33.33 1060.53L41.67 1068.87M33.33 1068.87L41.67 1060.53" stroke="#009e73" stroke-width="2.25" fill="none"/><path d="M70.40 998.43L78.74 1006.77M70.40 1006.77L78.74 998.43" stroke="#009e73" stroke-width="2.25" fill="none"/><path d="M107.47 897.23L115.81 905.57M107.47 905.57L115.81 897.23" stroke="#009e73" stroke-width="2.25" fill="none"/><path d="M144.54 848.93L152.88 857.27M144.54 857.27L152.88 848.93" stroke="#009e73" stroke-width="2.25" fill="none"/><path d="M181.61 848.93L189.95 857.27M181.61 857.27L189.95 848.93" stroke="#009e73" stroke-width="2.25" fill="none"/><path d="M218.68 848.93L227.02 857.27M218.68 857.27L227.02 848.93" stroke="#009e73" stroke-width="2.25" fill="none"/><path d="M255.75 848.93L264.09 857.27M255.75 857.27L264.09 848.93" stroke="#009e73" stroke-width="2.25" fill="none"/><path d="M292.82 848.93L301.16 857.27M292.82 857.27L301.16 848.93" stroke="#009e73" stroke-width="2.25" fill="none"/>
<path d="M37.50 1076.20L74.57 1071.60L111.64 1071.60L148.71 1048.60L185.78 931.30L222.85 853.10L259.92 853.10L296.99 853.10" stroke="#56b4e9" stroke-width="2.25" fill="none" stroke-linejoin="round" clip-path="url(#c4)"/>
<path d="M32.60 1076.20H42.40M33.63 1071.84L41.37 1080.56M33.63 1080.56L41.37 1071.84" stroke="#56b4e9" stroke-width="2.25" fill="none"/><path d="M69.67 1071.60H79.47M70.70 1067.24L78.44 1075.96M70.70 1075.96L78.44 1067.24" stroke="#56b4e9" stroke-width="2.25" fill="none"/><path d="M106.74 1071.60H116.54M107.77 1067.24L115.51 1075.96M107.77 1075.96L115.51 1067.24" stroke="#56b4e9" stroke-width="2.25" fill="none"/><path d="M143.81 1048.60H153.61M144.84 1044.24L152.58 1052.96M144.84 1052.96L152.58 1044.24" stroke="#56b4e9" stroke-width="2.25" fill="none"/><path d="M180.88 931.30H190.68M181.91 926.94L189.65 935.66M181.91 935.66L189.65 926.94" stroke="#56b4e9" stroke-width="2.25" fill="none"/><path d="M217.95 853.10H227.75M218.98 848.74L226.72 857.46M218.98 857.46L226.72 848.74" stroke="#56b4e9" stroke-width="2.25" fill="none"/><path d="M255.02 853.10H264.82M256.05 848.74L263.79 857.46M256.05 857.46L263.79 848.74" stroke="#56b4e9" stroke-width="2.25" fill="none"/><path d="M292.09 853.10H301.89M293.12 848.74L300.86 857.46M293.12 857.46L300.86 848.74" stroke="#56b4e9" stroke-width="2.25" fill="none"/>
<path d="M37.50 1083.10L74.57 1067.00L111.64 929.00L148.71 857.70L185.78 853.10L222.85 853.10L259.92 853.10L296.99 853.10" stroke="#e69f00" stroke-width="2.25" fill="none" stroke-linejoin="round" clip-path="url(#c4)"/>
<rect x="33.20" y="1078.80" width="8.60" height="8.60" stroke="#e69f00" stroke-width="2.25" fill="none"/><rect x="70.27" y="1062.70" width="8.60" height="8.60" stroke="#e69f00" stroke-width="2.25" fill="none"/><rect x="107.34" y="924.70" width="8.60" height="8.60" stroke="#e69f00" stroke-width="2.25" fill="none"/><rect x="144.41" y="853.40" width="8.60" height="8.60" stroke="#e69f00" stroke-width="2.25" fill="none"/><rect x="181.48" y="848.80" width="8.60" height="8.60" stroke="#e69f00" stroke-width="2.25" fill="none"/><rect x="218.55" y="848.80" width="8.60" height="8.60" stroke="#e69f00" stroke-width="2.25" fill="none"/><rect x="255.62" y="848.80" width="8.60" height="8.60" stroke="#e69f00" stroke-width="2.25" fill="none"/><rect x="292.69" y="848.80" width="8.60" height="8.60" stroke="#e69f00" stroke-width="2.25" fill="none"/>
<rect x="37.5" y="841.80" width="259.50" height="241.30" fill="none" stroke="#1a1a1a" stroke-width="1.35"/>
<path d="M37.5 1083.10h10M297.0 1083.10h-10M37.5 1037.10h10M297.0 1037.10h-10M37.5 991.10h10M297.0 991.10h-10M37.5 945.10h10M297.0 945.10h-10M37.5 899.10h10M297.0 899.10h-10M37.5 853.10h10M297.0 853.10h-10M37.50 1083.10v-10M37.50 841.80v10M74.57 1083.10v-10M74.57 841.80v10M111.64 1083.10v-10M111.64 841.80v10M148.71 1083.10v-10M148.71 841.80v10M185.78 1083.10v-10M185.78 841.80v10M222.85 1083.10v-10M222.85 841.80v10M259.92 1083.10v-10M259.92 841.80v10M296.99 1083.10v-10M296.99 841.80v10" stroke="#1a1a1a" stroke-width="0.95" fill="none"/>
<rect x="109.00" y="1009.40" width="174.2" height="63.7" fill="#fff" stroke="#1a1a1a" stroke-width="1"/>
<path d="M122.90 1017.40H146.40" stroke="#9400d3" stroke-width="2.25"/>
<path d="M130.35 1017.40H138.95M134.65 1013.10V1021.70" stroke="#9400d3" stroke-width="2.25" fill="none"/>
<text class="lg" transform="translate(160.00,1022.15) scale(1.38,1)" font-size="13.0" textLength="50.07" lengthAdjust="spacing">GC-VAR</text>
<path d="M122.90 1033.45H146.40" stroke="#009e73" stroke-width="2.25"/>
<path d="M130.48 1029.28L138.82 1037.62M130.48 1037.62L138.82 1029.28" stroke="#009e73" stroke-width="2.25" fill="none"/>
<text class="lg" transform="translate(160.00,1038.20) scale(1.38,1)" font-size="13.0" textLength="47.97" lengthAdjust="spacing">TE-KSG</text>
<path d="M122.90 1049.50H146.40" stroke="#56b4e9" stroke-width="2.25"/>
<path d="M129.75 1049.50H139.55M130.78 1045.14L138.52 1053.86M130.78 1053.86L138.52 1045.14" stroke="#56b4e9" stroke-width="2.25" fill="none"/>
<text class="lg" transform="translate(160.00,1054.25) scale(1.38,1)" font-size="13.0" textLength="68.62" lengthAdjust="spacing">EITEST-KS</text>
<path d="M122.90 1065.55H146.40" stroke="#e69f00" stroke-width="2.25"/>
<rect x="130.35" y="1061.25" width="8.60" height="8.60" stroke="#e69f00" stroke-width="2.25" fill="none"/>
<text class="lg" transform="translate(160.00,1070.30) scale(1.38,1)" font-size="13.0" textLength="84.35" lengthAdjust="spacing">EITEST-MMD</text>
<text class="sm" transform="translate(22.30,1088.50) scale(1.25,1)" font-size="14.2" text-anchor="end" textLength="7.02" lengthAdjust="spacing">0</text>
<text class="sm" transform="translate(22.30,1042.50) scale(1.25,1)" font-size="14.2" text-anchor="end" textLength="18.26" lengthAdjust="spacing">0.2</text>
<text class="sm" transform="translate(22.30,996.50) scale(1.25,1)" font-size="14.2" text-anchor="end" textLength="18.26" lengthAdjust="spacing">0.4</text>
<text class="sm" transform="translate(22.30,950.50) scale(1.25,1)" font-size="14.2" text-anchor="end" textLength="18.26" lengthAdjust="spacing">0.6</text>
<text class="sm" transform="translate(22.30,904.50) scale(1.25,1)" font-size="14.2" text-anchor="end" textLength="18.26" lengthAdjust="spacing">0.8</text>
<text class="sm" transform="translate(22.30,858.50) scale(1.25,1)" font-size="14.2" text-anchor="end" textLength="7.02" lengthAdjust="spacing">1</text>
<text class="sm" transform="translate(36.70,1113.70) scale(1.25,1)" font-size="13.2" text-anchor="middle" textLength="7.02" lengthAdjust="spacing">8</text>
<text class="sm" transform="translate(73.77,1113.70) scale(1.25,1)" font-size="13.2" text-anchor="middle" textLength="14.04" lengthAdjust="spacing">16</text>
<text class="sm" transform="translate(110.84,1113.70) scale(1.25,1)" font-size="13.2" text-anchor="middle" textLength="14.04" lengthAdjust="spacing">32</text>
<text class="sm" transform="translate(147.91,1113.70) scale(1.25,1)" font-size="13.2" text-anchor="middle" textLength="14.04" lengthAdjust="spacing">64</text>
<text class="sm" transform="translate(184.98,1113.70) scale(1.25,1)" font-size="13.2" text-anchor="middle" textLength="21.07" lengthAdjust="spacing">128</text>
<text class="sm" transform="translate(222.05,1113.70) scale(1.25,1)" font-size="13.2" text-anchor="middle" textLength="21.07" lengthAdjust="spacing">256</text>
<text class="sm" transform="translate(259.12,1113.70) scale(1.25,1)" font-size="13.2" text-anchor="middle" textLength="21.07" lengthAdjust="spacing">512</text>
<text class="sm" transform="translate(296.19,1113.70) scale(1.25,1)" font-size="13.2" text-anchor="middle" textLength="28.09" lengthAdjust="spacing">1024</text>
<text x="166.25" y="809.30" font-size="25.5" text-anchor="middle" textLength="247.50" lengthAdjust="spacingAndGlyphs">Variance impact model</text>
<text x="59.50" y="1151.30" font-size="24.0" text-anchor="start" textLength="183.30" lengthAdjust="spacingAndGlyphs">number of events</text>
<text x="251.00" y="1150.80" font-size="24.7" text-anchor="start" textLength="20.90" lengthAdjust="spacingAndGlyphs" font-style="italic">N</text>
<clipPath id="c5"><rect x="358.7" y="841.8000000000001" width="259.7" height="241.29999999999984"/></clipPath>
<path d="M614.90 1083.10V853.10" stroke="#222" stroke-width="1.3" stroke-dasharray="1.3 5.4" fill="none"/>
<path d="M358.70 1078.50L395.30 1064.70L431.90 1073.90L468.50 1076.20L505.10 1071.60L541.70 1060.10L578.30 1073.90L614.90 1064.70L618.68 1064.70" stroke="#9400d3" stroke-width="2.25" fill="none" stroke-linejoin="round" clip-path="url(#c5)"/>
<path d="M354.40 1078.50H363.00M358.70 1074.20V1082.80" stroke="#9400d3" stroke-width="2.25" fill="none"/><path d="M391.00 1064.70H399.60M395.30 1060.40V1069.00" stroke="#9400d3" stroke-width="2.25" fill="none"/><path d="M427.60 1073.90H436.20M431.90 1069.60V1078.20" stroke="#9400d3" stroke-width="2.25" fill="none"/><path d="M464.20 1076.20H472.80M468.50 1071.90V1080.50" stroke="#9400d3" stroke-width="2.25" fill="none"/><path d="M500.80 1071.60H509.40M505.10 1067.30V1075.90" stroke="#9400d3" stroke-width="2.25" fill="none"/><path d="M537.40 1060.10H546.00M541.70 1055.80V1064.40" stroke="#9400d3" stroke-width="2.25" fill="none"/><path d="M574.00 1073.90H582.60M578.30 1069.60V1078.20" stroke="#9400d3" stroke-width="2.25" fill="none"/><path d="M610.60 1064.70H619.20M614.90 1060.40V1069.00" stroke="#9400d3" stroke-width="2.25" fill="none"/>
<path d="M358.70 1050.90L395.30 1034.80L431.90 1023.30L468.50 998.00L505.10 988.80L541.70 954.30L578.30 887.60L614.90 866.90L618.68 899.10" stroke="#009e73" stroke-width="2.25" fill="none" stroke-linejoin="round" clip-path="url(#c5)"/>
<path d="M354.53 1046.73L362.87 1055.07M354.53 1055.07L362.87 1046.73" stroke="#009e73" stroke-width="2.25" fill="none"/><path d="M391.13 1030.63L399.47 1038.97M391.13 1038.97L399.47 1030.63" stroke="#009e73" stroke-width="2.25" fill="none"/><path d="M427.73 1019.13L436.07 1027.47M427.73 1027.47L436.07 1019.13" stroke="#009e73" stroke-width="2.25" fill="none"/><path d="M464.33 993.83L472.67 1002.17M464.33 1002.17L472.67 993.83" stroke="#009e73" stroke-width="2.25" fill="none"/><path d="M500.93 984.63L509.27 992.97M500.93 992.97L509.27 984.63" stroke="#009e73" stroke-width="2.25" fill="none"/><path d="M537.53 950.13L545.87 958.47M537.53 958.47L545.87 950.13" stroke="#009e73" stroke-width="2.25" fill="none"/><path d="M574.13 883.43L582.47 891.77M574.13 891.77L582.47 883.43" stroke="#009e73" stroke-width="2.25" fill="none"/><path d="M610.73 862.73L619.07 871.07M610.73 871.07L619.07 862.73" stroke="#009e73" stroke-width="2.25" fill="none"/>
<path d="M358.70 1083.10L395.30 1078.50L431.90 1076.20L468.50 1078.50L505.10 1069.30L541.70 1025.60L578.30 952.00L614.90 862.30L618.68 885.30" stroke="#56b4e9" stroke-width="2.25" fill="none" stroke-linejoin="round" clip-path="url(#c5)"/>
<path d="M353.80 1083.10H363.60M354.83 1078.74L362.57 1087.46M354.83 1087.46L362.57 1078.74" stroke="#56b4e9" stroke-width="2.25" fill="none"/><path d="M390.40 1078.50H400.20M391.43 1074.14L399.17 1082.86M391.43 1082.86L399.17 1074.14" stroke="#56b4e9" stroke-width="2.25" fill="none"/><path d="M427.00 1076.20H436.80M428.03 1071.84L435.77 1080.56M428.03 1080.56L435.77 1071.84" stroke="#56b4e9" stroke-width="2.25" fill="none"/><path d="M463.60 1078.50H473.40M464.63 1074.14L472.37 1082.86M464.63 1082.86L472.37 1074.14" stroke="#56b4e9" stroke-width="2.25" fill="none"/><path d="M500.20 1069.30H510.00M501.23 1064.94L508.97 1073.66M501.23 1073.66L508.97 1064.94" stroke="#56b4e9" stroke-width="2.25" fill="none"/><path d="M536.80 1025.60H546.60M537.83 1021.24L545.57 1029.96M537.83 1029.96L545.57 1021.24" stroke="#56b4e9" stroke-width="2.25" fill="none"/><path d="M573.40 952.00H583.20M574.43 947.64L582.17 956.36M574.43 956.36L582.17 947.64" stroke="#56b4e9" stroke-width="2.25" fill="none"/><path d="M610.00 862.30H619.80M611.03 857.94L618.77 866.66M611.03 866.66L618.77 857.94" stroke="#56b4e9" stroke-width="2.25" fill="none"/>
<path d="M358.70 1083.10L395.30 1083.10L431.90 1071.60L468.50 1014.10L505.10 929.00L541.70 860.00L578.30 853.10L614.90 853.10L618.68 885.30" stroke="#e69f00" stroke-width="2.25" fill="none" stroke-linejoin="round" clip-path="url(#c5)"/>
<rect x="354.40" y="1078.80" width="8.60" height="8.60" stroke="#e69f00" stroke-width="2.25" fill="none"/><rect x="391.00" y="1078.80" width="8.60" height="8.60" stroke="#e69f00" stroke-width="2.25" fill="none"/><rect x="427.60" y="1067.30" width="8.60" height="8.60" stroke="#e69f00" stroke-width="2.25" fill="none"/><rect x="464.20" y="1009.80" width="8.60" height="8.60" stroke="#e69f00" stroke-width="2.25" fill="none"/><rect x="500.80" y="924.70" width="8.60" height="8.60" stroke="#e69f00" stroke-width="2.25" fill="none"/><rect x="537.40" y="855.70" width="8.60" height="8.60" stroke="#e69f00" stroke-width="2.25" fill="none"/><rect x="574.00" y="848.80" width="8.60" height="8.60" stroke="#e69f00" stroke-width="2.25" fill="none"/><rect x="610.60" y="848.80" width="8.60" height="8.60" stroke="#e69f00" stroke-width="2.25" fill="none"/>
<rect x="358.7" y="841.80" width="259.70" height="241.30" fill="none" stroke="#1a1a1a" stroke-width="1.35"/>
<path d="M358.7 1083.10h10M618.4 1083.10h-10M358.7 1037.10h10M618.4 1037.10h-10M358.7 991.10h10M618.4 991.10h-10M358.7 945.10h10M618.4 945.10h-10M358.7 899.10h10M618.4 899.10h-10M358.7 853.10h10M618.4 853.10h-10M358.70 1083.10v-10M358.70 841.80v10M395.30 1083.10v-10M395.30 841.80v10M431.90 1083.10v-10M431.90 841.80v10M468.50 1083.10v-10M468.50 841.80v10M505.10 1083.10v-10M505.10 841.80v10M541.70 1083.10v-10M541.70 841.80v10M578.30 1083.10v-10M578.30 841.80v10M614.90 1083.10v-10M614.90 841.80v10" stroke="#1a1a1a" stroke-width="0.95" fill="none"/>
<rect x="372.10" y="851.40" width="174.2" height="63.7" fill="#fff" stroke="#1a1a1a" stroke-width="1"/>
<path d="M386.00 859.40H409.50" stroke="#9400d3" stroke-width="2.25"/>
<path d="M393.45 859.40H402.05M397.75 855.10V863.70" stroke="#9400d3" stroke-width="2.25" fill="none"/>
<text class="lg" transform="translate(423.10,864.15) scale(1.38,1)" font-size="13.0" textLength="50.07" lengthAdjust="spacing">GC-VAR</text>
<path d="M386.00 875.45H409.50" stroke="#009e73" stroke-width="2.25"/>
<path d="M393.58 871.28L401.92 879.62M393.58 879.62L401.92 871.28" stroke="#009e73" stroke-width="2.25" fill="none"/>
<text class="lg" transform="translate(423.10,880.20) scale(1.38,1)" font-size="13.0" textLength="47.97" lengthAdjust="spacing">TE-KSG</text>
<path d="M386.00 891.50H409.50" stroke="#56b4e9" stroke-width="2.25"/>
<path d="M392.85 891.50H402.65M393.88 887.14L401.62 895.86M393.88 895.86L401.62 887.14" stroke="#56b4e9" stroke-width="2.25" fill="none"/>
<text class="lg" transform="translate(423.10,896.25) scale(1.38,1)" font-size="13.0" textLength="68.62" lengthAdjust="spacing">EITEST-KS</text>
<path d="M386.00 907.55H409.50" stroke="#e69f00" stroke-width="2.25"/>
<rect x="393.45" y="903.25" width="8.60" height="8.60" stroke="#e69f00" stroke-width="2.25" fill="none"/>
<text class="lg" transform="translate(423.10,912.30) scale(1.38,1)" font-size="13.0" textLength="84.35" lengthAdjust="spacing">EITEST-MMD</text>
<text class="sm" transform="translate(343.50,1088.50) scale(1.25,1)" font-size="14.2" text-anchor="end" textLength="7.02" lengthAdjust="spacing">0</text>
<text class="sm" transform="translate(343.50,1042.50) scale(1.25,1)" font-size="14.2" text-anchor="end" textLength="18.26" lengthAdjust="spacing">0.2</text>
<text class="sm" transform="translate(343.50,996.50) scale(1.25,1)" font-size="14.2" text-anchor="end" textLength="18.26" lengthAdjust="spacing">0.4</text>
<text class="sm" transform="translate(343.50,950.50) scale(1.25,1)" font-size="14.2" text-anchor="end" textLength="18.26" lengthAdjust="spacing">0.6</text>
<text class="sm" transform="translate(343.50,904.50) scale(1.25,1)" font-size="14.2" text-anchor="end" textLength="18.26" lengthAdjust="spacing">0.8</text>
<text class="sm" transform="translate(343.50,858.50) scale(1.25,1)" font-size="14.2" text-anchor="end" textLength="7.02" lengthAdjust="spacing">1</text>
<text class="sm" transform="translate(357.90,1113.70) scale(1.25,1)" font-size="13.2" text-anchor="middle" textLength="7.02" lengthAdjust="spacing">8</text>
<text class="sm" transform="translate(394.50,1113.70) scale(1.25,1)" font-size="13.2" text-anchor="middle" textLength="14.04" lengthAdjust="spacing">16</text>
<text class="sm" transform="translate(431.10,1113.70) scale(1.25,1)" font-size="13.2" text-anchor="middle" textLength="14.04" lengthAdjust="spacing">32</text>
<text class="sm" transform="translate(467.70,1113.70) scale(1.25,1)" font-size="13.2" text-anchor="middle" textLength="14.04" lengthAdjust="spacing">64</text>
<text class="sm" transform="translate(504.30,1113.70) scale(1.25,1)" font-size="13.2" text-anchor="middle" textLength="21.07" lengthAdjust="spacing">128</text>
<text class="sm" transform="translate(540.90,1113.70) scale(1.25,1)" font-size="13.2" text-anchor="middle" textLength="21.07" lengthAdjust="spacing">256</text>
<text class="sm" transform="translate(577.50,1113.70) scale(1.25,1)" font-size="13.2" text-anchor="middle" textLength="21.07" lengthAdjust="spacing">512</text>
<text class="sm" transform="translate(614.10,1113.70) scale(1.25,1)" font-size="13.2" text-anchor="middle" textLength="28.09" lengthAdjust="spacing">1024</text>
<text x="487.55" y="809.30" font-size="25.5" text-anchor="middle" textLength="197.60" lengthAdjust="spacingAndGlyphs">Tail impact model</text>
<text x="380.70" y="1151.30" font-size="24.0" text-anchor="start" textLength="183.30" lengthAdjust="spacingAndGlyphs">number of events</text>
<text x="572.20" y="1150.80" font-size="24.7" text-anchor="start" textLength="20.90" lengthAdjust="spacingAndGlyphs" font-style="italic">N</text>
<clipPath id="c6"><rect x="37.5" y="1237.8" width="259.5" height="241.29999999999995"/></clipPath>
<path d="M291.90 1479.10V1249.10" stroke="#222" stroke-width="1.3" stroke-dasharray="1.3 5.4" fill="none"/>
<path d="M37.50 1476.80L122.30 1451.50L207.10 1449.20L291.90 1444.60" stroke="#9400d3" stroke-width="2.25" fill="none" stroke-linejoin="round" clip-path="url(#c6)"/>
<path d="M33.20 1476.80H41.80M37.50 1472.50V1481.10" stroke="#9400d3" stroke-width="2.25" fill="none"/><path d="M118.00 1451.50H126.60M122.30 1447.20V1455.80" stroke="#9400d3" stroke-width="2.25" fill="none"/><path d="M202.80 1449.20H211.40M207.10 1444.90V1453.50" stroke="#9400d3" stroke-width="2.25" fill="none"/><path d="M287.60 1444.60H296.20M291.90 1440.30V1448.90" stroke="#9400d3" stroke-width="2.25" fill="none"/>
<path d="M37.50 1476.80L122.30 1249.10L207.10 1249.10L291.90 1249.10" stroke="#009e73" stroke-width="2.25" fill="none" stroke-linejoin="round" clip-path="url(#c6)"/>
<path d="M33.33 1472.63L41.67 1480.97M33.33 1480.97L41.67 1472.63" stroke="#009e73" stroke-width="2.25" fill="none"/><path d="M118.13 1244.93L126.47 1253.27M118.13 1253.27L126.47 1244.93" stroke="#009e73" stroke-width="2.25" fill="none"/><path d="M202.93 1244.93L211.27 1253.27M202.93 1253.27L211.27 1244.93" stroke="#009e73" stroke-width="2.25" fill="none"/><path d="M287.73 1244.93L296.07 1253.27M287.73 1253.27L296.07 1244.93" stroke="#009e73" stroke-width="2.25" fill="none"/>
<path d="M37.50 1476.80L122.30 1400.90L207.10 1361.80L291.90 1327.30" stroke="#56b4e9" stroke-width="2.25" fill="none" stroke-linejoin="round" clip-path="url(#c6)"/>
<path d="M32.60 1476.80H42.40M33.63 1472.44L41.37 1481.16M33.63 1481.16L41.37 1472.44" stroke="#56b4e9" stroke-width="2.25" fill="none"/><path d="M117.40 1400.90H127.20M118.43 1396.54L126.17 1405.26M118.43 1405.26L126.17 1396.54" stroke="#56b4e9" stroke-width="2.25" fill="none"/><path d="M202.20 1361.80H212.00M203.23 1357.44L210.97 1366.16M203.23 1366.16L210.97 1357.44" stroke="#56b4e9" stroke-width="2.25" fill="none"/><path d="M287.00 1327.30H296.80M288.03 1322.94L295.77 1331.66M288.03 1331.66L295.77 1322.94" stroke="#56b4e9" stroke-width="2.25" fill="none"/>
<path d="M37.50 1476.80L122.30 1249.10L207.10 1249.10L291.90 1249.10" stroke="#e69f00" stroke-width="2.25" fill="none" stroke-linejoin="round" clip-path="url(#c6)"/>
<rect x="33.20" y="1472.50" width="8.60" height="8.60" stroke="#e69f00" stroke-width="2.25" fill="none"/><rect x="118.00" y="1244.80" width="8.60" height="8.60" stroke="#e69f00" stroke-width="2.25" fill="none"/><rect x="202.80" y="1244.80" width="8.60" height="8.60" stroke="#e69f00" stroke-width="2.25" fill="none"/><rect x="287.60" y="1244.80" width="8.60" height="8.60" stroke="#e69f00" stroke-width="2.25" fill="none"/>
<rect x="37.5" y="1237.80" width="259.50" height="241.30" fill="none" stroke="#1a1a1a" stroke-width="1.35"/>
<path d="M37.5 1479.10h10M297.0 1479.10h-10M37.5 1433.10h10M297.0 1433.10h-10M37.5 1387.10h10M297.0 1387.10h-10M37.5 1341.10h10M297.0 1341.10h-10M37.5 1295.10h10M297.0 1295.10h-10M37.5 1249.10h10M297.0 1249.10h-10M37.50 1479.10v-10M37.50 1237.80v10M122.30 1479.10v-10M122.30 1237.80v10M207.10 1479.10v-10M207.10 1237.80v10M291.90 1479.10v-10M291.90 1237.80v10" stroke="#1a1a1a" stroke-width="0.95" fill="none"/>
<rect x="109.00" y="1405.40" width="174.2" height="63.7" fill="#fff" stroke="#1a1a1a" stroke-width="1"/>
<path d="M122.90 1413.40H146.40" stroke="#9400d3" stroke-width="2.25"/>
<path d="M130.35 1413.40H138.95M134.65 1409.10V1417.70" stroke="#9400d3" stroke-width="2.25" fill="none"/>
<text class="lg" transform="translate(160.00,1418.15) scale(1.38,1)" font-size="13.0" textLength="50.07" lengthAdjust="spacing">GC-VAR</text>
<path d="M122.90 1429.45H146.40" stroke="#009e73" stroke-width="2.25"/>
<path d="M130.48 1425.28L138.82 1433.62M130.48 1433.62L138.82 1425.28" stroke="#009e73" stroke-width="2.25" fill="none"/>
<text class="lg" transform="translate(160.00,1434.20) scale(1.38,1)" font-size="13.0" textLength="47.97" lengthAdjust="spacing">TE-KSG</text>
<path d="M122.90 1445.50H146.40" stroke="#56b4e9" stroke-width="2.25"/>
<path d="M129.75 1445.50H139.55M130.78 1441.14L138.52 1449.86M130.78 1449.86L138.52 1441.14" stroke="#56b4e9" stroke-width="2.25" fill="none"/>
<text class="lg" transform="translate(160.00,1450.25) scale(1.38,1)" font-size="13.0" textLength="68.62" lengthAdjust="spacing">EITEST-KS</text>
<path d="M122.90 1461.55H146.40" stroke="#e69f00" stroke-width="2.25"/>
<rect x="130.35" y="1457.25" width="8.60" height="8.60" stroke="#e69f00" stroke-width="2.25" fill="none"/>
<text class="lg" transform="translate(160.00,1466.30) scale(1.38,1)" font-size="13.0" textLength="84.35" lengthAdjust="spacing">EITEST-MMD</text>
<text class="sm" transform="translate(22.30,1484.50) scale(1.25,1)" font-size="14.2" text-anchor="end" textLength="7.02" lengthAdjust="spacing">0</text>
<text class="sm" transform="translate(22.30,1438.50) scale(1.25,1)" font-size="14.2" text-anchor="end" textLength="18.26" lengthAdjust="spacing">0.2</text>
<text class="sm" transform="translate(22.30,1392.50) scale(1.25,1)" font-size="14.2" text-anchor="end" textLength="18.26" lengthAdjust="spacing">0.4</text>
<text class="sm" transform="translate(22.30,1346.50) scale(1.25,1)" font-size="14.2" text-anchor="end" textLength="18.26" lengthAdjust="spacing">0.6</text>
<text class="sm" transform="translate(22.30,1300.50) scale(1.25,1)" font-size="14.2" text-anchor="end" textLength="18.26" lengthAdjust="spacing">0.8</text>
<text class="sm" transform="translate(22.30,1254.50) scale(1.25,1)" font-size="14.2" text-anchor="end" textLength="7.02" lengthAdjust="spacing">1</text>
<text class="sm" transform="translate(36.70,1509.70) scale(1.25,1)" font-size="13.2" text-anchor="middle" textLength="28.09" lengthAdjust="spacing">1024</text>
<text class="sm" transform="translate(121.50,1509.70) scale(1.25,1)" font-size="13.2" text-anchor="middle" textLength="28.09" lengthAdjust="spacing">2048</text>
<text class="sm" transform="translate(206.30,1509.70) scale(1.25,1)" font-size="13.2" text-anchor="middle" textLength="28.09" lengthAdjust="spacing">4096</text>
<text class="sm" transform="translate(291.10,1509.70) scale(1.25,1)" font-size="13.2" text-anchor="middle" textLength="28.09" lengthAdjust="spacing">8192</text>
<text x="166.25" y="1206.10" font-size="25.5" text-anchor="middle" textLength="247.50" lengthAdjust="spacingAndGlyphs">Variance impact model</text>
<text x="58.25" y="1547.30" font-size="24.0" text-anchor="start" textLength="189.75" lengthAdjust="spacingAndGlyphs">time series length</text>
<text x="255.70" y="1546.80" font-size="24.7" text-anchor="start" textLength="17.60" lengthAdjust="spacingAndGlyphs" font-style="italic">T</text>
<clipPath id="c7"><rect x="358.7" y="1237.8" width="259.7" height="241.29999999999995"/></clipPath>
<path d="M531.90 1479.10V1249.10" stroke="#222" stroke-width="1.3" stroke-dasharray="1.3 5.4" fill="none"/>
<path d="M358.70 1479.10L531.90 1463.00L618.50 1467.60" stroke="#9400d3" stroke-width="2.25" fill="none" stroke-linejoin="round" clip-path="url(#c7)"/>
<path d="M354.40 1479.10H363.00M358.70 1474.80V1483.40" stroke="#9400d3" stroke-width="2.25" fill="none"/><path d="M527.60 1463.00H536.20M531.90 1458.70V1467.30" stroke="#9400d3" stroke-width="2.25" fill="none"/><path d="M614.20 1467.60H622.80M618.50 1463.30V1471.90" stroke="#9400d3" stroke-width="2.25" fill="none"/>
<path d="M358.70 1476.80L531.90 1262.90L618.50 1256.00" stroke="#009e73" stroke-width="2.25" fill="none" stroke-linejoin="round" clip-path="url(#c7)"/>
<path d="M354.53 1472.63L362.87 1480.97M354.53 1480.97L362.87 1472.63" stroke="#009e73" stroke-width="2.25" fill="none"/><path d="M527.73 1258.73L536.07 1267.07M527.73 1267.07L536.07 1258.73" stroke="#009e73" stroke-width="2.25" fill="none"/><path d="M614.33 1251.83L622.67 1260.17M614.33 1260.17L622.67 1251.83" stroke="#009e73" stroke-width="2.25" fill="none"/>
<path d="M358.70 1476.80L531.90 1253.70L618.50 1251.40" stroke="#56b4e9" stroke-width="2.25" fill="none" stroke-linejoin="round" clip-path="url(#c7)"/>
<path d="M353.80 1476.80H363.60M354.83 1472.44L362.57 1481.16M354.83 1481.16L362.57 1472.44" stroke="#56b4e9" stroke-width="2.25" fill="none"/><path d="M527.00 1253.70H536.80M528.03 1249.34L535.77 1258.06M528.03 1258.06L535.77 1249.34" stroke="#56b4e9" stroke-width="2.25" fill="none"/><path d="M613.60 1251.40H623.40M614.63 1247.04L622.37 1255.76M614.63 1255.76L622.37 1247.04" stroke="#56b4e9" stroke-width="2.25" fill="none"/>
<path d="M358.70 1469.90L531.90 1249.10L618.50 1249.10" stroke="#e69f00" stroke-width="2.25" fill="none" stroke-linejoin="round" clip-path="url(#c7)"/>
<rect x="354.40" y="1465.60" width="8.60" height="8.60" stroke="#e69f00" stroke-width="2.25" fill="none"/><rect x="527.60" y="1244.80" width="8.60" height="8.60" stroke="#e69f00" stroke-width="2.25" fill="none"/><rect x="614.20" y="1244.80" width="8.60" height="8.60" stroke="#e69f00" stroke-width="2.25" fill="none"/>
<rect x="358.7" y="1237.80" width="259.70" height="241.30" fill="none" stroke="#1a1a1a" stroke-width="1.35"/>
<path d="M358.7 1479.10h10M618.4 1479.10h-10M358.7 1433.10h10M618.4 1433.10h-10M358.7 1387.10h10M618.4 1387.10h-10M358.7 1341.10h10M618.4 1341.10h-10M358.7 1295.10h10M618.4 1295.10h-10M358.7 1249.10h10M618.4 1249.10h-10M358.70 1479.10v-10M358.70 1237.80v10M445.30 1479.10v-10M445.30 1237.80v10M531.90 1479.10v-10M531.90 1237.80v10M618.50 1479.10v-10M618.50 1237.80v10" stroke="#1a1a1a" stroke-width="0.95" fill="none"/>
<rect x="430.40" y="1405.40" width="174.2" height="63.7" fill="#fff" stroke="#1a1a1a" stroke-width="1"/>
<path d="M444.30 1413.40H467.80" stroke="#9400d3" stroke-width="2.25"/>
<path d="M451.75 1413.40H460.35M456.05 1409.10V1417.70" stroke="#9400d3" stroke-width="2.25" fill="none"/>
<text class="lg" transform="translate(481.40,1418.15) scale(1.38,1)" font-size="13.0" textLength="50.07" lengthAdjust="spacing">GC-VAR</text>
<path d="M444.30 1429.45H467.80" stroke="#009e73" stroke-width="2.25"/>
<path d="M451.88 1425.28L460.22 1433.62M451.88 1433.62L460.22 1425.28" stroke="#009e73" stroke-width="2.25" fill="none"/>
<text class="lg" transform="translate(481.40,1434.20) scale(1.38,1)" font-size="13.0" textLength="47.97" lengthAdjust="spacing">TE-KSG</text>
<path d="M444.30 1445.50H467.80" stroke="#56b4e9" stroke-width="2.25"/>
<path d="M451.15 1445.50H460.95M452.18 1441.14L459.92 1449.86M452.18 1449.86L459.92 1441.14" stroke="#56b4e9" stroke-width="2.25" fill="none"/>
<text class="lg" transform="translate(481.40,1450.25) scale(1.38,1)" font-size="13.0" textLength="68.62" lengthAdjust="spacing">EITEST-KS</text>
<path d="M444.30 1461.55H467.80" stroke="#e69f00" stroke-width="2.25"/>
<rect x="451.75" y="1457.25" width="8.60" height="8.60" stroke="#e69f00" stroke-width="2.25" fill="none"/>
<text class="lg" transform="translate(481.40,1466.30) scale(1.38,1)" font-size="13.0" textLength="84.35" lengthAdjust="spacing">EITEST-MMD</text>
<text class="sm" transform="translate(343.50,1484.50) scale(1.25,1)" font-size="14.2" text-anchor="end" textLength="7.02" lengthAdjust="spacing">0</text>
<text class="sm" transform="translate(343.50,1438.50) scale(1.25,1)" font-size="14.2" text-anchor="end" textLength="18.26" lengthAdjust="spacing">0.2</text>
<text class="sm" transform="translate(343.50,1392.50) scale(1.25,1)" font-size="14.2" text-anchor="end" textLength="18.26" lengthAdjust="spacing">0.4</text>
<text class="sm" transform="translate(343.50,1346.50) scale(1.25,1)" font-size="14.2" text-anchor="end" textLength="18.26" lengthAdjust="spacing">0.6</text>
<text class="sm" transform="translate(343.50,1300.50) scale(1.25,1)" font-size="14.2" text-anchor="end" textLength="18.26" lengthAdjust="spacing">0.8</text>
<text class="sm" transform="translate(343.50,1254.50) scale(1.25,1)" font-size="14.2" text-anchor="end" textLength="7.02" lengthAdjust="spacing">1</text>
<text class="sm" transform="translate(357.90,1509.70) scale(1.25,1)" font-size="13.2" text-anchor="middle" textLength="28.09" lengthAdjust="spacing">2048</text>
<text class="sm" transform="translate(444.50,1509.70) scale(1.25,1)" font-size="13.2" text-anchor="middle" textLength="28.09" lengthAdjust="spacing">4096</text>
<text class="sm" transform="translate(531.10,1509.70) scale(1.25,1)" font-size="13.2" text-anchor="middle" textLength="28.09" lengthAdjust="spacing">8192</text>
<text class="sm" transform="translate(617.70,1509.70) scale(1.25,1)" font-size="13.2" text-anchor="middle" textLength="35.11" lengthAdjust="spacing">16384</text>
<text x="487.55" y="1206.10" font-size="25.5" text-anchor="middle" textLength="197.60" lengthAdjust="spacingAndGlyphs">Tail impact model</text>
<text x="379.45" y="1547.30" font-size="24.0" text-anchor="start" textLength="189.75" lengthAdjust="spacingAndGlyphs">time series length</text>
<text x="576.90" y="1546.80" font-size="24.7" text-anchor="start" textLength="17.60" lengthAdjust="spacingAndGlyphs" font-style="italic">T</text>
</svg>
</body></html>
